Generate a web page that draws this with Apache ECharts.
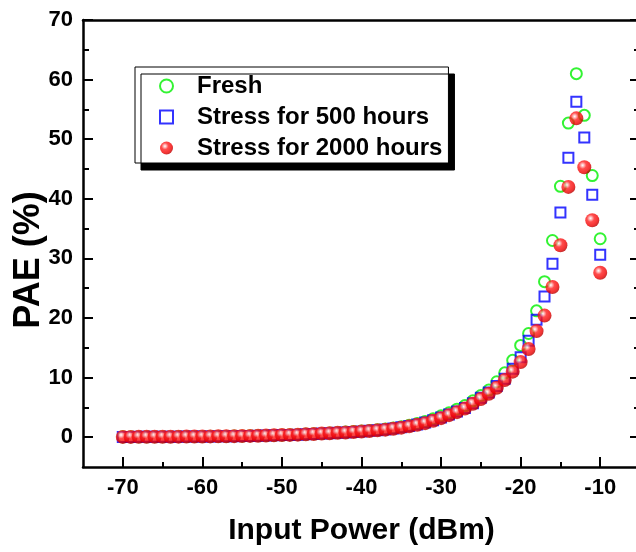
<!DOCTYPE html>
<html><head><meta charset="utf-8">
<script src="https://cdn.jsdelivr.net/npm/echarts@6/dist/echarts.min.js"></script>
<style>html,body{margin:0;padding:0;background:#fff;overflow:hidden}#c{width:636px;height:552px}</style>
</head><body><div id="c"></div>
<script>
const inputPower = [-70,-69,-68,-67,-66,-65,-64,-63,-62,-61,-60,-59,-58,-57,-56,-55,-54,-53,-52,-51,-50,-49,-48,-47,-46,-45,-44,-43,-42,-41,-40,-39,-38,-37,-36,-35,-34,-33,-32,-31,-30,-29,-28,-27,-26,-25,-24,-23,-22,-21,-20,-19,-18,-17,-16,-15,-14,-13,-12,-11,-10];
const fresh = [0.06,0.06,0.07,0.07,0.08,0.08,0.09,0.10,0.11,0.12,0.13,0.15,0.16,0.18,0.20,0.22,0.24,0.27,0.30,0.34,0.38,0.42,0.47,0.52,0.58,0.64,0.71,0.78,0.86,0.94,1.02,1.12,1.24,1.38,1.55,1.75,2.0,2.3,2.65,3.1,3.6,4.1,4.7,5.3,6.1,7.0,7.9,9.3,10.8,12.9,15.4,17.4,21.2,26.1,33.0,42.1,52.7,61.0,54.0,43.9,33.3];
const stress500 = [0.05,0.05,0.06,0.06,0.07,0.07,0.08,0.09,0.10,0.11,0.12,0.13,0.15,0.16,0.18,0.20,0.22,0.25,0.28,0.31,0.35,0.39,0.43,0.48,0.54,0.60,0.66,0.73,0.80,0.88,0.97,1.07,1.18,1.31,1.46,1.65,1.88,2.15,2.45,2.85,3.3,3.8,4.3,4.9,5.7,6.6,7.5,8.6,9.8,11.5,13.4,16.2,19.7,23.6,29.1,37.7,46.9,56.3,50.3,40.7,30.6];
const stress2000 = [0.05,0.05,0.06,0.06,0.07,0.07,0.08,0.09,0.10,0.11,0.12,0.13,0.15,0.16,0.18,0.20,0.22,0.25,0.28,0.31,0.35,0.39,0.43,0.48,0.54,0.60,0.66,0.73,0.80,0.88,0.96,1.05,1.15,1.27,1.42,1.60,1.82,2.07,2.36,2.75,3.2,3.7,4.2,4.8,5.6,6.4,7.3,8.3,9.6,11.0,12.6,14.8,17.8,20.4,25.2,32.2,42.0,53.5,45.3,36.4,27.6];
const seriesNames = ['Fresh','Stress for 500 hours','Stress for 2000 hours'];
const xMajorTicks = [-70,-60,-50,-40,-30,-20,-10];
const xMinorTicks = [-65,-55,-45,-35,-25,-15];
const yMajorTicks = [0,10,20,30,40,50,60,70];
const yMinorTicks = [5,15,25,35,45,55,65];

const FONT = 'Liberation Sans, Arial, sans-serif';
const pair = (ys) => inputPower.map((x, i) => [x, ys[i]]);
const ballColor = {type:'radial', x:0.38, y:0.36, r:0.62, colorStops:[
  {offset:0, color:'#ffffff'},{offset:0.16, color:'#ffb0b0'},{offset:0.42, color:'#ff2020'},
  {offset:0.85, color:'#f00000'},{offset:1, color:'#c00000'}]};
const freshStyle = {color:'rgba(255,255,255,0)', borderColor:'#00f000', borderWidth:2};
const s500Style = {color:'rgba(255,255,255,0)', borderColor:'#0000ff', borderWidth:2};
const s2000Style = {color: ballColor, borderWidth:0};

const xBase = {type:'value', min:-75, max:-5, splitLine:{show:false}};
const yBase = {type:'value', min:-5, max:70, splitLine:{show:false}};
const blackLine = {show:true, onZero:false, lineStyle:{color:'#000', width:2.5}};
const noLine = {show:false, onZero:false};
const tickStyle = {color:'#000', width:2};

const chart = echarts.init(document.getElementById('c'), null, {renderer:'canvas'});
chart.setOption({
  animation:false,
  backgroundColor:'#fff',
  grid:{left:83, width:557, top:20, height:447, containLabel:false, outerBoundsMode:'none'},
  xAxis:[
    Object.assign({}, xBase, {position:'bottom', axisLine:blackLine,
      axisTick:{show:true, inside:true, length:10, customValues:xMajorTicks, lineStyle:tickStyle},
      axisLabel:{show:true, customValues:xMajorTicks, color:'#000', fontSize:22, fontWeight:'bold', fontFamily:FONT, margin:10},
      name:'Input Power (dBm)', nameLocation:'middle', nameGap:49,
      nameTextStyle:{color:'#000', fontSize:30, fontWeight:'bold', fontFamily:FONT}}),
    Object.assign({}, xBase, {position:'bottom', axisLine:noLine,
      axisTick:{show:true, inside:true, length:5, customValues:xMinorTicks, lineStyle:tickStyle},
      axisLabel:{show:false}}),
    Object.assign({}, xBase, {position:'top', axisLine:blackLine, axisTick:{show:false}, axisLabel:{show:false}})
  ],
  yAxis:[
    Object.assign({}, yBase, {position:'left', axisLine:blackLine,
      axisTick:{show:true, inside:true, length:10, customValues:yMajorTicks, lineStyle:tickStyle},
      axisLabel:{show:true, customValues:yMajorTicks, color:'#000', fontSize:22, fontWeight:'bold', fontFamily:FONT, margin:10}}),
    Object.assign({}, yBase, {position:'left', axisLine:noLine,
      axisTick:{show:true, inside:true, length:6, customValues:yMinorTicks, lineStyle:tickStyle},
      axisLabel:{show:false}}),
    Object.assign({}, yBase, {position:'right', axisLine:blackLine,
      axisTick:{show:true, inside:true, length:10, customValues:yMajorTicks, lineStyle:tickStyle},
      axisLabel:{show:false}}),
    Object.assign({}, yBase, {position:'right', axisLine:noLine,
      axisTick:{show:true, inside:true, length:6, customValues:yMinorTicks, lineStyle:tickStyle},
      axisLabel:{show:false}})
  ],
  legend:{
    orient:'vertical', left:135, top:67, selectedMode:false,
    backgroundColor:'#fff', borderColor:'#000', borderWidth:1,
    shadowColor:'#000', shadowBlur:0, shadowOffsetX:6, shadowOffsetY:7,
    padding:[7,6,3,24], itemGap:7, itemWidth:13, itemHeight:13,
    textStyle:{color:'#000', fontSize:24, fontWeight:'bold', fontFamily:FONT, padding:[0,0,0,19]},
    data:[
      {name:seriesNames[0], icon:'circle', itemStyle:freshStyle},
      {name:seriesNames[1], icon:'rect', itemStyle:s500Style},
      {name:seriesNames[2], icon:'circle', itemStyle:s2000Style}
    ]
  },
  graphic:[{type:'text', x:29, y:260, rotation:Math.PI/2,
    style:{text:'PAE (%)', fill:'#000', font:'bold 36px ' + FONT, align:'center', verticalAlign:'middle'}}],
  series:[
    {name:seriesNames[0], type:'scatter', symbol:'circle', symbolSize:11, data:pair(fresh), itemStyle:freshStyle, z:2},
    {name:seriesNames[1], type:'scatter', symbol:'rect', symbolSize:10, data:pair(stress500), itemStyle:s500Style, z:3},
    {name:seriesNames[2], type:'scatter', symbol:'circle', symbolSize:14, data:pair(stress2000), itemStyle:s2000Style, z:4}
  ]
});
</script></body></html>
